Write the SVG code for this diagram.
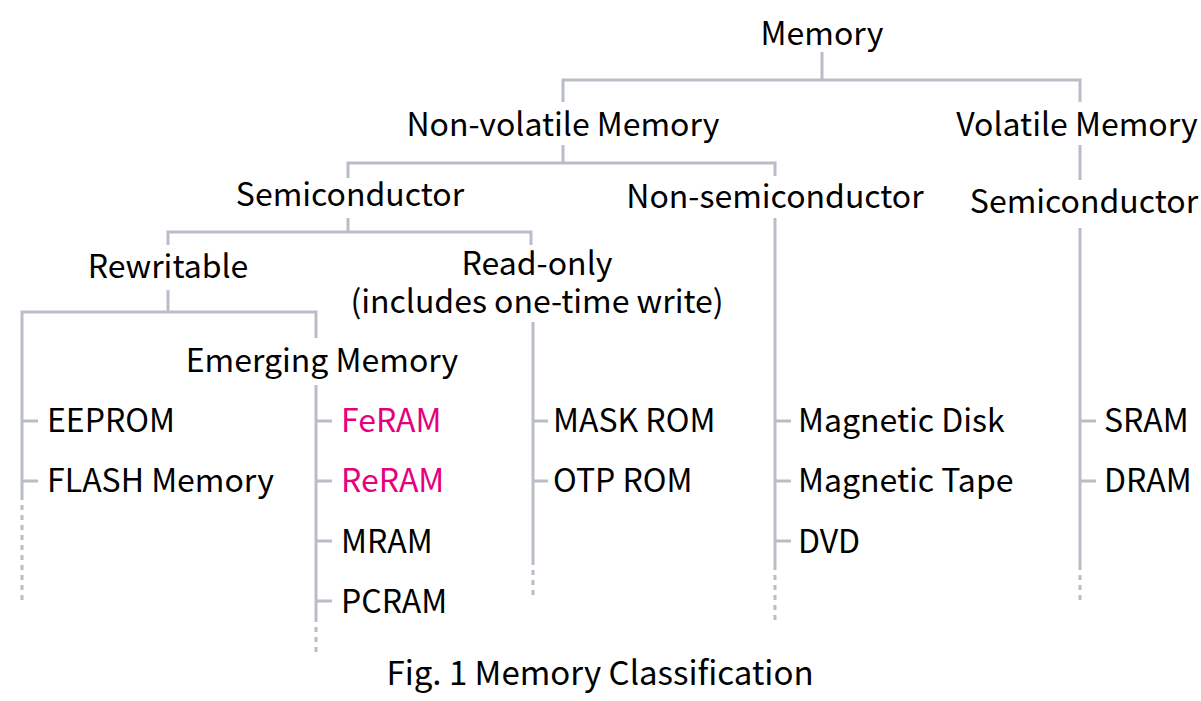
<svg xmlns="http://www.w3.org/2000/svg" width="1201" height="701" viewBox="0 0 1201 701">
<style>
text{font-family:"Noto Sans CJK JP","Noto Sans",sans-serif;font-size:32px;fill:#000}
.c{text-anchor:middle}
.p{fill:#e6007e}
.l{stroke:#b9bdc7;stroke-width:3;fill:none}
.d{stroke:#b9bdc7;stroke-width:3;fill:none;stroke-dasharray:5 5}
</style>
<rect width="1201" height="701" fill="#fff"/>
<g id="connectors">
<path class="l" d="M822 52V80M563 102V80H1080V102M563 145V163M348 178V163H775V176M1080 145V180M348 218V232M168 245V232H531V245M775 218V570M1080 228V570M168 290V312M22 500V312H316V338M533 322V565M316 385V622"/>
<path class="l" d="M22 421H38M22 481H38M316 421H332M316 481H332M316 541H332M316 601H332M533 421H548M533 481H548M775 421H791M775 481H791M775 541H791M1080 421H1096M1080 481H1096"/>
<path class="d" d="M22 505V600M533 570V600M775 575V620M1080 575V600M316 627V657"/>
</g>
<g id="n-memory"><text class="c" x="822" y="45">Memory</text></g>
<g id="n-nonvolatile"><text class="c" x="563" y="136">Non-volatile Memory</text></g>
<g id="n-volatile"><text class="c" x="1077" y="136">Volatile Memory</text></g>
<g id="n-semi"><text class="c" x="350" y="206">Semiconductor</text></g>
<g id="n-nonsemi"><text class="c" x="775" y="208">Non-semiconductor</text></g>
<g id="n-vsemi"><text class="c" x="1084" y="213">Semiconductor</text></g>
<g id="n-rewritable"><text class="c" x="168" y="278">Rewritable</text></g>
<g id="n-readonly"><text class="c" x="537" y="275">Read-only</text><text class="c" x="537" y="313">(includes one-time write)</text></g>
<g id="n-emerging"><text class="c" x="322" y="372">Emerging Memory</text></g>
<g id="n-eeprom"><text x="47" y="432">EEPROM</text></g>
<g id="n-flash"><text x="47" y="492">FLASH Memory</text></g>
<g id="n-feram"><text class="p" x="341" y="432">FeRAM</text></g>
<g id="n-reram"><text class="p" x="341" y="492">ReRAM</text></g>
<g id="n-mram"><text x="341" y="553">MRAM</text></g>
<g id="n-pcram"><text x="341" y="613">PCRAM</text></g>
<g id="n-maskrom"><text x="553" y="432">MASK ROM</text></g>
<g id="n-otprom"><text x="553" y="492">OTP ROM</text></g>
<g id="n-disk"><text x="798" y="432">Magnetic Disk</text></g>
<g id="n-tape"><text x="798" y="492">Magnetic Tape</text></g>
<g id="n-dvd"><text x="798" y="553">DVD</text></g>
<g id="n-sram"><text x="1104" y="432">SRAM</text></g>
<g id="n-dram"><text x="1104" y="492">DRAM</text></g>
<g id="caption"><text class="c" x="600" y="685" style="font-size:33px">Fig. 1 Memory Classification</text></g>
</svg>
